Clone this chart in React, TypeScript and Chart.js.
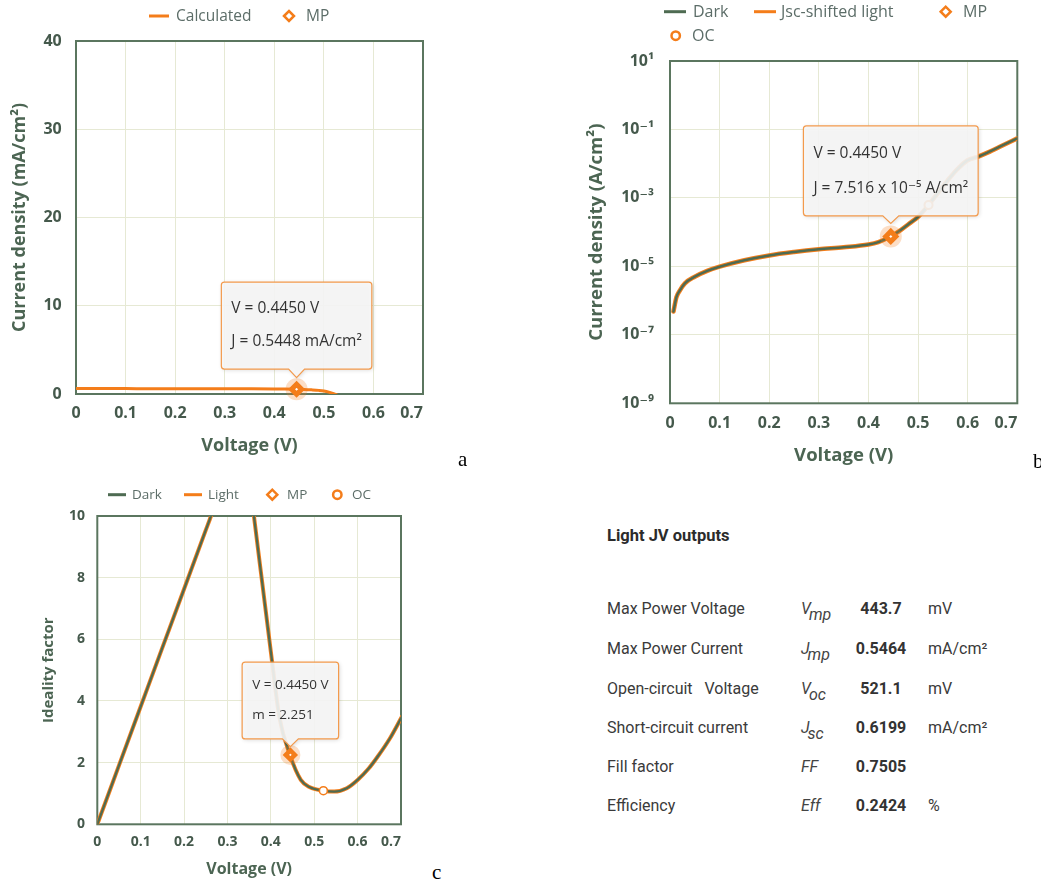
import React, { useEffect, useRef } from "react";
import { Chart, registerables } from "chart.js";

Chart.register(...registerables);

// ---------------- data ----------------
const xTickLabels = ["0", "0.1", "0.2", "0.3", "0.4", "0.5", "0.6", "0.7"];

// (a) light J-V curve, V in volts, J in mA/cm²
const lightV = [0, 0.05, 0.1, 0.15, 0.2, 0.25, 0.3, 0.35, 0.4, 0.42, 0.445, 0.46, 0.475, 0.49, 0.5, 0.51, 0.521, 0.527];
const lightJ = [0.62, 0.616, 0.61, 0.605, 0.599, 0.594, 0.588, 0.584, 0.576, 0.569, 0.545, 0.518, 0.472, 0.41, 0.34, 0.21, 0.0, -0.12];
const aYTickLabels = ["0", "10", "20", "30", "40"];

// (b) dark / Jsc-shifted light current density, A/cm²
const darkV = [0.007, 0.013, 0.02, 0.03, 0.05, 0.075, 0.1, 0.15, 0.2, 0.25, 0.3, 0.35, 0.4, 0.42, 0.445, 0.465, 0.485, 0.5, 0.521, 0.54, 0.56, 0.58, 0.6, 0.62, 0.64, 0.67, 0.7];
const darkJ = [4.8e-7, 1.26e-6, 2.0e-6, 3.2e-6, 5.0e-6, 7.4e-6, 9.8e-6, 1.51e-5, 2.09e-5, 2.63e-5, 3.16e-5, 3.63e-5, 4.37e-5, 5.13e-5, 7.516e-5, 1.15e-4, 1.9e-4, 2.8e-4, 6.2e-4, 1.41e-3, 3.3e-3, 7.1e-3, 1.26e-2, 1.58e-2, 2.1e-2, 3.4e-2, 5.5e-2];
const shiftedLightJ = [4.8e-7, 1.26e-6, 2.0e-6, 3.2e-6, 5.0e-6, 7.4e-6, 9.8e-6, 1.51e-5, 2.09e-5, 2.63e-5, 3.16e-5, 3.63e-5, 4.37e-5, 5.13e-5, 7.516e-5, 1.15e-4, 1.9e-4, 2.8e-4, 6.2e-4, 1.41e-3, 3.3e-3, 7.1e-3, 1.26e-2, 1.58e-2, 2.1e-2, 3.4e-2, 5.5e-2];
const bYTickValues = [1e-9, 1e-7, 1e-5, 1e-3, 1e-1, 1e1];
const bYTickLabels = ["10⁻⁹", "10⁻⁷", "10⁻⁵", "10⁻³", "10⁻¹", "10¹"];

// (c) ideality factor
const idealV = [0, 0.05, 0.1, 0.15, 0.2, 0.25, 0.262, 0.28, 0.3, 0.32, 0.34, 0.35, 0.361, 0.38, 0.4, 0.42, 0.444, 0.469, 0.49, 0.521, 0.546, 0.575, 0.6, 0.625, 0.646, 0.675, 0.702];
const idealDarkM = [0, 1.91, 3.82, 5.73, 7.63, 9.54, 10.0, 10.8, 12.0, 12.8, 12.3, 11.3, 10.0, 7.85, 5.6, 3.45, 2.25, 1.44, 1.2, 1.09, 1.06, 1.17, 1.44, 1.8, 2.19, 2.8, 3.49];
const idealLightM = [0, 1.91, 3.82, 5.73, 7.63, 9.54, 10.0, 10.8, 12.0, 12.8, 12.3, 11.3, 10.0, 7.85, 5.6, 3.45, 2.25, 1.44, 1.2, 1.09, 1.06, 1.17, 1.44, 1.8, 2.19, 2.8, 3.49];
const cYTickLabels = ["0", "2", "4", "6", "8", "10"];

// marked points
const mpV = 0.445;
const mpJ = 0.5448;
const mpDarkJ = 7.516e-5;
const mpM = 2.251;
const ocV = 0.5211;
const ocDarkJ = 6.199e-4;
const ocM = 1.09;

// output table
const outTitle = "Light JV outputs";
const outLabels = ["Max Power Voltage", "Max Power Current", "Open-circuit   Voltage", "Short-circuit current", "Fill factor", "Efficiency"];
const outSymbols = ["V", "J", "V", "J", "FF", "Eff"];
const outSubs = ["mp", "mp", "oc", "sc", "", ""];
const outValues = ["443.7", "0.5464", "521.1", "0.6199", "0.7505", "0.2424"];
const outUnits = ["mV", "mA/cm²", "mV", "mA/cm²", "", "%"];

// ---------------- styles ----------------
const FONT = "'Open Sans', 'DejaVu Sans', sans-serif";
const ORANGE = "#f47d1a";
const DARK = "#4e6b52";
const GRID = "#e6e9d4";
const BORDER = "#5b765f";
const TICK = "#45594c";
const TITLE = "#4c6553";
const LEGEND_TEXT = "#5c6d68";
const HALO = "rgba(244,125,26,0.25)";

Chart.defaults.font.family = FONT;

const pts = (xs: number[], ys: number[]) => xs.map((x, i) => ({ x, y: ys[i] }));

function lineDs(label: string, xs: number[], ys: number[], color: string, width: number, order: number) {
  return {
    label,
    data: pts(xs, ys),
    showLine: true,
    borderColor: color,
    backgroundColor: color,
    borderWidth: width,
    pointRadius: 0,
    pointHoverRadius: 0,
    cubicInterpolationMode: "monotone",
    borderJoinStyle: "round",
    borderCapStyle: "round",
    clip: 0,
    order,
  };
}

function markerDs(label: string, x: number, y: number, style: string, radius: number, bw: number, fill: string, border: string, order: number) {
  return {
    label,
    data: [{ x, y }],
    showLine: false,
    pointStyle: style,
    pointRadius: radius,
    pointHoverRadius: radius,
    pointBorderWidth: bw,
    pointBorderColor: border,
    pointBackgroundColor: fill,
    borderColor: border,
    backgroundColor: fill,
    borderWidth: bw,
    clip: false,
    order,
  };
}

type LegendItem = { kind: "line" | "diamond" | "circle"; color: string; label: string; sx: number; tx: number; y: number; len?: number };
type TipSpec = { x: number; y: number; lines: string[]; font: number; padX: number; gap: number; caret: number; height: number; first: number; lineGap: number };
type Deco = { xTickFont: number; xTickY: number; legendFont: number; legend: LegendItem[]; tip: TipSpec };

function makeDeco(spec: Deco) {
  return {
    id: "deco",
    beforeDatasetsDraw(chart: any) {
      const { ctx, chartArea: a } = chart;
      ctx.save();
      ctx.strokeStyle = BORDER;
      ctx.lineWidth = 2;
      ctx.strokeRect(a.left, a.top, a.right - a.left, a.bottom - a.top);
      ctx.restore();
    },
    afterDraw(chart: any) {
      const { ctx, chartArea: area } = chart;
      const xs = chart.scales.x;
      const ys = chart.scales.y;
      ctx.save();
      // x tick labels (justified so the last one stays inside the plot)
      ctx.font = `bold ${spec.xTickFont}px ${FONT}`;
      ctx.fillStyle = TICK;
      ctx.textBaseline = "middle";
      ctx.textAlign = "left";
      xs.ticks.forEach((t: any, i: number) => {
        const label = xTickLabels[i];
        if (label === undefined) return;
        const w = ctx.measureText(label).width;
        let x = xs.getPixelForValue(t.value) - w / 2;
        if (x + w > area.right) x = area.right - w;
        ctx.fillText(label, x, spec.xTickY);
      });
      // legend
      ctx.font = `${spec.legendFont}px ${FONT}`;
      spec.legend.forEach((it) => {
        ctx.strokeStyle = it.color;
        if (it.kind === "line") {
          ctx.lineWidth = 3;
          ctx.beginPath();
          ctx.moveTo(it.sx, it.y);
          ctx.lineTo(it.sx + (it.len || 20), it.y);
          ctx.stroke();
        } else if (it.kind === "diamond") {
          const r = 5;
          ctx.lineWidth = 2.5;
          ctx.fillStyle = "#fff";
          ctx.beginPath();
          ctx.moveTo(it.sx - r, it.y);
          ctx.lineTo(it.sx, it.y - r);
          ctx.lineTo(it.sx + r, it.y);
          ctx.lineTo(it.sx, it.y + r);
          ctx.closePath();
          ctx.fill();
          ctx.stroke();
        } else {
          ctx.lineWidth = 2.5;
          ctx.fillStyle = "#fff";
          ctx.beginPath();
          ctx.arc(it.sx, it.y, 4.2, 0, Math.PI * 2);
          ctx.fill();
          ctx.stroke();
        }
        ctx.fillStyle = LEGEND_TEXT;
        ctx.fillText(it.label, it.tx, it.y + 0.5);
      });
      // tooltip callout
      const tp = spec.tip;
      const px = xs.getPixelForValue(tp.x);
      const py = ys.getPixelForValue(tp.y);
      ctx.font = `${tp.font}px ${FONT}`;
      const tw = Math.max(...tp.lines.map((l) => ctx.measureText(l).width));
      const w = tw + tp.padX * 2;
      const tipY = py - tp.gap;
      const bottom = tipY - tp.caret;
      const top = bottom - tp.height;
      const left = px - w / 2;
      const right = left + w;
      const r = 3;
      const cw = 8;
      ctx.beginPath();
      ctx.moveTo(left + r, top);
      ctx.lineTo(right - r, top);
      ctx.arcTo(right, top, right, top + r, r);
      ctx.lineTo(right, bottom - r);
      ctx.arcTo(right, bottom, right - r, bottom, r);
      ctx.lineTo(px + cw, bottom);
      ctx.lineTo(px, tipY);
      ctx.lineTo(px - cw, bottom);
      ctx.lineTo(left + r, bottom);
      ctx.arcTo(left, bottom, left, bottom - r, r);
      ctx.lineTo(left, top + r);
      ctx.arcTo(left, top, left + r, top, r);
      ctx.closePath();
      ctx.save();
      ctx.shadowColor = "rgba(0,0,0,0.18)";
      ctx.shadowBlur = 4;
      ctx.shadowOffsetX = 1;
      ctx.shadowOffsetY = 1;
      ctx.fillStyle = "rgba(247,247,247,0.9)";
      ctx.fill();
      ctx.restore();
      ctx.strokeStyle = "#f39a4c";
      ctx.lineWidth = 1.2;
      ctx.stroke();
      ctx.fillStyle = "#333";
      ctx.textBaseline = "middle";
      tp.lines.forEach((l, i) => ctx.fillText(l, left + tp.padX, top + tp.first + i * tp.lineGap));
      ctx.restore();
    },
  };
}

function xAxis(titleSize: number, titlePadBottom: number, height: number) {
  return {
    type: "linear",
    min: 0,
    max: 0.7,
    ticks: { stepSize: 0.1, display: false },
    grid: { color: GRID, drawTicks: false, lineWidth: 1 },
    border: { display: false },
    title: {
      display: true,
      text: "Voltage (V)",
      color: TITLE,
      font: { family: FONT, size: titleSize, weight: "bold" },
      padding: { top: 0, bottom: titlePadBottom },
    },
    afterFit: (s: any) => {
      s.height = height;
    },
  };
}

function yTitle(text: string, size: number, padTop: number) {
  return {
    display: true,
    text,
    color: TITLE,
    font: { family: FONT, size, weight: "bold" },
    padding: { top: padTop, bottom: 0 },
  };
}

function ChartBox({ left, top, width, height, build }: { left: number; top: number; width: number; height: number; build: () => any }) {
  const ref = useRef<HTMLCanvasElement>(null);
  useEffect(() => {
    const chart = new Chart(ref.current as HTMLCanvasElement, build());
    return () => chart.destroy();
  }, []);
  return (
    <div style={{ position: "absolute", left, top, width, height }}>
      <canvas ref={ref} width={width} height={height} style={{ width, height, display: "block" }} />
    </div>
  );
}

const commonOpts = (padding: any) => ({
  responsive: false,
  animation: false,
  events: [],
  layout: { padding },
  plugins: { legend: { display: false }, tooltip: { enabled: false } },
});

function buildA() {
  return {
    type: "scatter",
    data: {
      datasets: [
        markerDs("MP", mpV, mpJ, "rectRot", 5, 5, "#fff", ORANGE, 0),
        markerDs("MP halo", mpV, mpJ, "circle", 11, 0, HALO, HALO, 1),
        lineDs("Calculated", lightV, lightJ, ORANGE, 3, 2),
      ],
    },
    options: {
      ...commonOpts({ left: 0, top: 41, right: 47, bottom: 0 }),
      scales: {
        x: xAxis(18, 13, 76),
        y: {
          min: 0,
          max: 40,
          ticks: { stepSize: 10, padding: 14.3, color: TICK, font: { family: FONT, size: 16, weight: "bold" }, callback: (_v: any, i: number) => aYTickLabels[i] },
          grid: { color: GRID, drawTicks: false },
          border: { display: false },
          title: yTitle("Current density (mA/cm²)", 18, 9.2),
          afterFit: (s: any) => {
            s.width = 76;
          },
        },
      },
    },
    plugins: [
      makeDeco({
        xTickFont: 16,
        xTickY: 413.3,
        legendFont: 15.5,
        legend: [
          { kind: "line", color: ORANGE, label: "Calculated", sx: 149, tx: 176, y: 16, len: 20 },
          { kind: "diamond", color: ORANGE, label: "MP", sx: 289, tx: 306, y: 16 },
        ],
        tip: { x: mpV, y: mpJ, lines: [`V = ${mpV.toFixed(4)} V`, `J = ${mpJ.toFixed(4)} mA/cm²`], font: 15.5, padX: 10, gap: 11.5, caret: 8.6, height: 87, first: 26.6, lineGap: 32.7 },
      }),
    ],
  };
}

function buildB() {
  return {
    type: "scatter",
    data: {
      datasets: [
        markerDs("MP", mpV, mpDarkJ, "rectRot", 5, 5, "#fff", ORANGE, 0),
        markerDs("OC", ocV, ocDarkJ, "circle", 4, 2, "#fff", ORANGE, 0),
        markerDs("MP halo", mpV, mpDarkJ, "circle", 11, 0, HALO, HALO, 1),
        lineDs("Dark", darkV, darkJ, DARK, 2.5, 2),
        lineDs("Jsc-shifted light", darkV, shiftedLightJ, ORANGE, 4.5, 3),
      ],
    },
    options: {
      ...commonOpts({ left: 0, top: 61, right: 23.7, bottom: 0 }),
      scales: {
        x: xAxis(18.5, 2.9, 66.7),
        y: {
          type: "logarithmic",
          min: 1e-9,
          max: 10,
          afterBuildTicks: (s: any) => {
            s.ticks = bYTickValues.map((v) => ({ value: v }));
          },
          ticks: { autoSkip: false, padding: 16, color: TICK, font: { family: FONT, size: 16, weight: "bold" }, callback: (_v: any, i: number) => bYTickLabels[i] },
          grid: { color: GRID, drawTicks: false },
          border: { display: false },
          title: yTitle("Current density (A/cm²)", 18.5, 5.6),
          afterFit: (s: any) => {
            s.width = 90;
          },
        },
      },
    },
    plugins: [
      makeDeco({
        xTickFont: 16,
        xTickY: 423.3,
        legendFont: 16,
        legend: [
          { kind: "line", color: DARK, label: "Dark", sx: 84, tx: 113, y: 11.7, len: 22 },
          { kind: "line", color: ORANGE, label: "Jsc-shifted light", sx: 174, tx: 201, y: 11.7, len: 22 },
          { kind: "diamond", color: ORANGE, label: "MP", sx: 365.7, tx: 383, y: 11.7 },
          { kind: "circle", color: ORANGE, label: "OC", sx: 95.7, tx: 112, y: 35.7 },
        ],
        tip: { x: mpV, y: mpDarkJ, lines: [`V = ${mpV.toFixed(4)} V`, "J = 7.516 x 10⁻⁵ A/cm²"], font: 15.5, padX: 10, gap: 13, caret: 7.6, height: 90, first: 27.6, lineGap: 35 },
      }),
    ],
  };
}

function buildC() {
  return {
    type: "scatter",
    data: {
      datasets: [
        markerDs("MP", mpV, mpM, "rectRot", 4.5, 4.5, "#fff", ORANGE, 0),
        markerDs("OC", ocV, ocM, "circle", 4, 1.6, "#fff", ORANGE, 0),
        markerDs("MP halo", mpV, mpM, "circle", 10, 0, HALO, HALO, 1),
        lineDs("Dark", idealV, idealDarkM, DARK, 2.3, 2),
        lineDs("Light", idealV, idealLightM, ORANGE, 4, 3),
      ],
    },
    options: {
      ...commonOpts({ left: 0, top: 36, right: 29, bottom: 0 }),
      scales: {
        x: xAxis(16, 2.1, 56.7),
        y: {
          min: 0,
          max: 10,
          ticks: { stepSize: 2, padding: 12.3, color: TICK, font: { family: FONT, size: 14, weight: "bold" }, callback: (_v: any, i: number) => cYTickLabels[i] },
          grid: { color: GRID, drawTicks: false },
          border: { display: false },
          title: yTitle("Ideality factor", 15, 39.3),
          afterFit: (s: any) => {
            s.width = 97.3;
          },
        },
      },
    },
    plugins: [
      makeDeco({
        xTickFont: 14,
        xTickY: 361.7,
        legendFont: 13.5,
        legend: [
          { kind: "line", color: DARK, label: "Dark", sx: 108, tx: 132, y: 14.7, len: 18 },
          { kind: "line", color: ORANGE, label: "Light", sx: 184, tx: 208, y: 14.7, len: 18 },
          { kind: "diamond", color: ORANGE, label: "MP", sx: 272.3, tx: 287, y: 14.7 },
          { kind: "circle", color: ORANGE, label: "OC", sx: 337.3, tx: 352, y: 14.7 },
        ],
        tip: { x: mpV, y: mpM, lines: [`V = ${mpV.toFixed(4)} V`, `m = ${mpM.toFixed(3)}`], font: 13.5, padX: 10, gap: 8.3, caret: 7.7, height: 76.7, first: 22.7, lineGap: 30 },
      }),
    ],
  };
}

const rowY = [609, 649, 689, 728, 767, 806];

function OutputTable() {
  const base: React.CSSProperties = { position: "absolute", fontFamily: "Roboto, 'Noto Sans', sans-serif", fontSize: 16, lineHeight: "20px", color: "#3a3a3a", whiteSpace: "pre" };
  return (
    <>
      <div style={{ ...base, left: 607, top: 526, fontWeight: "bold", fontSize: 16.5, color: "#2b2b2b" }}>{outTitle}</div>
      {outLabels.map((lab, i) => (
        <React.Fragment key={lab}>
          <div style={{ ...base, left: 607, top: rowY[i] - 10 }}>{lab}</div>
          <div style={{ ...base, left: 801, top: rowY[i] - 10, fontStyle: "italic", color: "#444" }}>
            {outSymbols[i]}
            {outSubs[i] ? <span style={{ position: "relative", top: 6, marginLeft: -2, fontSize: 16 }}>{outSubs[i]}</span> : null}
          </div>
          <div style={{ ...base, left: 881, top: rowY[i] - 10, fontWeight: "bold", transform: "translateX(-50%)", color: "#333" }}>{outValues[i]}</div>
          <div style={{ ...base, left: 928, top: rowY[i] - 10 }}>{outUnits[i]}</div>
        </React.Fragment>
      ))}
    </>
  );
}

export default function App() {
  const letter: React.CSSProperties = { position: "absolute", fontFamily: "'Liberation Serif', 'DejaVu Serif', serif", fontSize: 21, lineHeight: "21px", color: "#000" };
  return (
    <div style={{ position: "fixed", left: 0, top: 0, width: 1041, height: 881, background: "#fff", overflow: "hidden" }}>
      <ChartBox left={0} top={0} width={470} height={470} build={buildA} />
      <ChartBox left={580} top={0} width={461} height={470} build={buildB} />
      <ChartBox left={0} top={480} width={430} height={401} build={buildC} />
      <OutputTable />
      <div style={{ ...letter, left: 458, top: 449 }}>a</div>
      <div style={{ ...letter, left: 1033, top: 451 }}>b</div>
      <div style={{ ...letter, left: 432, top: 862 }}>c</div>
    </div>
  );
}
